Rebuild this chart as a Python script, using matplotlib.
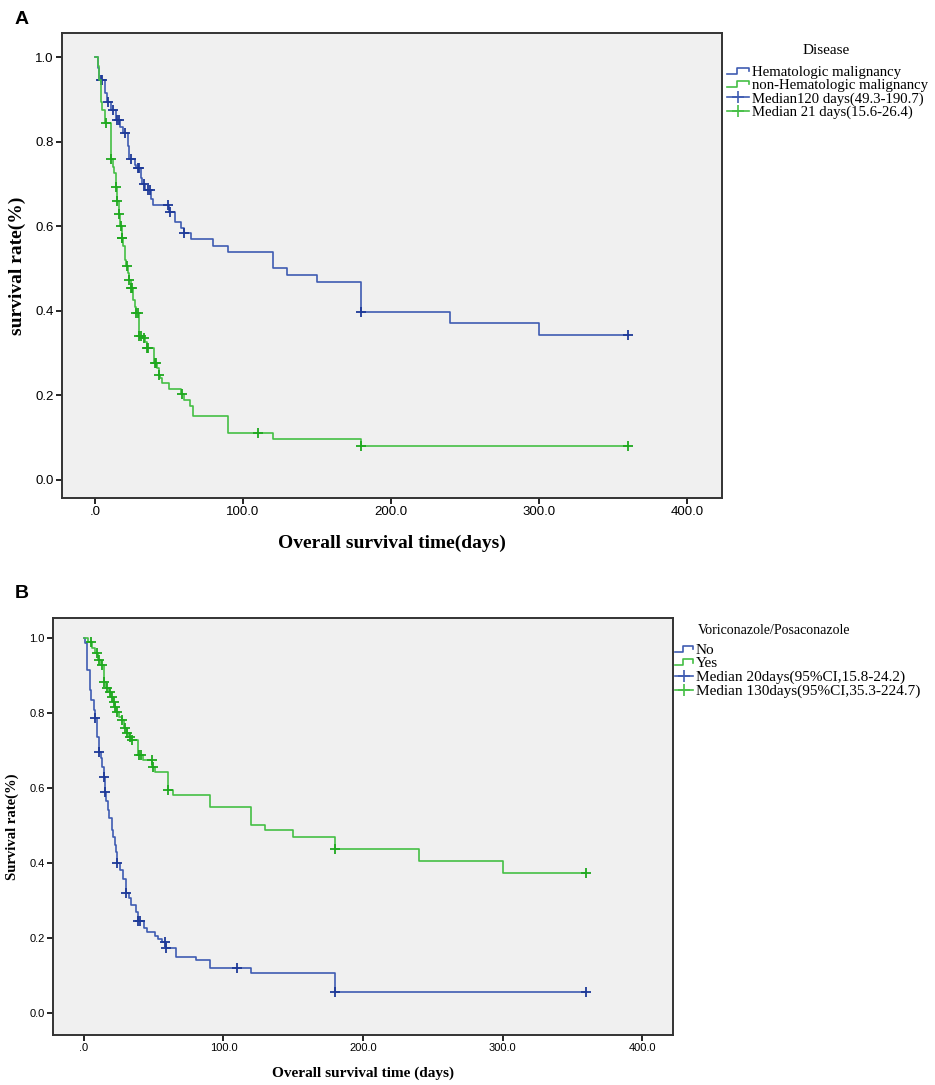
import numpy as np
import matplotlib.pyplot as plt
from matplotlib.lines import Line2D
from matplotlib.legend_handler import HandlerBase

# ---- Panel A: Disease ----
hem_t = [0, 2, 3, 7, 8, 11, 14, 17, 19, 22, 23, 27, 28, 31, 32, 34, 38, 39, 50, 54,
         58, 60, 65, 80, 90, 120, 130, 150, 180, 240, 300]
hem_s = [1.0, 0.975, 0.945, 0.915, 0.894, 0.875, 0.851, 0.835, 0.82, 0.79, 0.758, 0.745,
         0.737, 0.715, 0.70, 0.686, 0.665, 0.65, 0.634, 0.61, 0.595, 0.584, 0.57, 0.553,
         0.539, 0.50, 0.485, 0.469, 0.398, 0.371, 0.343]
hem_cens = [4, 5, 9, 12, 15, 16, 20, 24, 29, 30, 33, 36, 37, 49, 51, 60, 180, 360]

non_t = [0, 2, 3, 4, 5, 7, 11, 12, 13, 14, 15, 16, 17, 18, 19, 20, 21, 22, 23, 24, 26,
         27, 28, 30, 32, 34, 35, 40, 42, 43, 44, 45, 50, 58, 60, 64, 66, 90, 120, 180]
non_s = [1.0, 0.98, 0.945, 0.894, 0.875, 0.844, 0.76, 0.74, 0.725, 0.693, 0.66, 0.63,
         0.60, 0.571, 0.552, 0.52, 0.505, 0.489, 0.473, 0.453, 0.425, 0.41, 0.394, 0.34,
         0.336, 0.327, 0.311, 0.276, 0.265, 0.248, 0.24, 0.229, 0.215, 0.203, 0.19, 0.175,
         0.151, 0.11, 0.096, 0.080]
non_cens = [7.5, 11, 14, 15, 16, 17.5, 18, 18.5, 21.5, 23, 24, 25, 28, 29, 30, 31, 33,
            35, 36, 40.5, 41, 43, 58.5, 110, 180, 360]

# ---- Panel B: Voriconazole/Posaconazole ----
no_t = [0, 1, 2, 4, 5, 7, 8, 9, 11, 12, 13, 14, 15, 16, 17, 18, 20, 21, 22, 23, 24, 26,
        28, 30, 32, 34, 37, 39, 43, 45, 51, 53, 56, 59, 66, 80, 90, 120, 180]
no_s = [1.0, 0.986, 0.915, 0.861, 0.835, 0.808, 0.786, 0.737, 0.697, 0.68, 0.657, 0.63,
        0.59, 0.565, 0.541, 0.519, 0.488, 0.47, 0.448, 0.43, 0.401, 0.381, 0.357, 0.319,
        0.306, 0.288, 0.27, 0.245, 0.226, 0.217, 0.205, 0.196, 0.19, 0.172, 0.15, 0.141,
        0.119, 0.106, 0.057]
no_cens = [8, 11, 14, 15, 24, 30, 39, 40, 58, 59, 110, 180, 360]

yes_t = [0, 3, 6, 8, 10, 12, 14, 14.5, 16, 18, 19.5, 21, 22, 23, 25, 27, 29, 30.5, 32,
         34, 39, 42, 49, 51, 60, 64, 90, 120, 130, 150, 180, 240, 300]
yes_s = [1.0, 0.99, 0.972, 0.959, 0.941, 0.928, 0.91, 0.883, 0.866, 0.857, 0.843, 0.83,
         0.817, 0.803, 0.79, 0.781, 0.759, 0.746, 0.737, 0.728, 0.688, 0.675, 0.657,
         0.643, 0.595, 0.581, 0.55, 0.501, 0.488, 0.47, 0.437, 0.406, 0.374]
yes_cens = [5, 9, 10.5, 13, 14.5, 16.5, 18.5, 20, 21.5, 22.5, 24, 27.5, 29.5, 31, 33,
            34.5, 39.5, 41, 48.5, 49.5, 60, 180, 360]

x_ticks = [0, 100, 200, 300, 400]
x_ticklabels = ['.0', '100.0', '200.0', '300.0', '400.0']
y_ticks = [0.0, 0.2, 0.4, 0.6, 0.8, 1.0]
y_ticklabels = ['0.0', '0.2', '0.4', '0.6', '0.8', '1.0']

BLUE, BLUE_M = '#3f5cb2', '#1e3a98'
GREEN, GREEN_M = '#45bf45', '#1fa81f'
SERIF = 'Liberation Serif'
SANS = 'Liberation Sans'


class StepHandler(HandlerBase):
    # small step glyph like the SPSS legend
    def create_artists(self, legend, orig, xd, yd, w, h, fontsize, trans):
        x = -xd + w * np.array([0, 0.45, 0.45, 1.0, 1.0])
        y = -yd + h * np.array([0.2, 0.2, 0.75, 0.75, 0.45])
        ln = Line2D(x, y, color=orig.get_color(), lw=orig.get_linewidth())
        ln.set_transform(trans)
        return [ln]


def surv_at(times, surv, t):
    idx = np.searchsorted(times, t, side='right') - 1
    return np.asarray(surv)[idx]


def draw_km(ax, times, surv, cens, color, mcolor):
    end = max(cens)
    ax.step(list(times) + [end], list(surv) + [surv[-1]], where='post', color=color, lw=1.2)
    ax.plot(cens, surv_at(times, surv, cens), ls='none', marker='+', ms=7.5, mew=1.3,
            color=mcolor)


def style_axes(ax, xlim, ylim, tick_fs):
    ax.set_facecolor('#f0f0f0')
    ax.set_xlim(*xlim)
    ax.set_ylim(*ylim)
    ax.set_xticks(x_ticks)
    ax.set_xticklabels(x_ticklabels, fontfamily=SANS, fontsize=tick_fs)
    ax.set_yticks(y_ticks)
    ax.set_yticklabels(y_ticklabels, fontfamily=SANS, fontsize=tick_fs)
    ax.tick_params(direction='out', length=4, width=1.2, pad=2)
    for side, sp in ax.spines.items():
        sp.set_color('#333333')
        sp.set_linewidth(1.4)


fig = plt.figure(figsize=(9.35, 10.85), dpi=100)

# ---------------- A ----------------
axA = fig.add_axes([62 / 935, 1 - 498 / 1085, 660 / 935, 465 / 1085])
style_axes(axA, (-22.3, 423.6), (-0.043, 1.057), 9.5)
draw_km(axA, hem_t, hem_s, hem_cens, BLUE, BLUE_M)
draw_km(axA, non_t, non_s, non_cens, GREEN, GREEN_M)
axA.set_xlabel('Overall survival time(days)', fontfamily=SERIF, fontweight='bold',
               fontsize=14, va='center')
axA.xaxis.set_label_coords(0.5, -0.097)
axA.set_ylabel('survival rate(%)', fontfamily=SERIF, fontweight='bold', fontsize=14,
               va='center')
axA.yaxis.set_label_coords(-0.067, 0.5)

hA1 = Line2D([], [], color=BLUE, lw=1.2)
hA2 = Line2D([], [], color=GREEN, lw=1.2)
hA3 = Line2D([], [], color=BLUE, lw=1.2, marker='+', ms=9, mew=1.2)
hA4 = Line2D([], [], color=GREEN, lw=1.2, marker='+', ms=9, mew=1.2)
fig.text(826 / 935, 1 - 50 / 1085, 'Disease', fontfamily=SERIF, fontsize=11,
         ha='center', va='center')
fig.legend([hA1, hA2, hA3, hA4],
           ['Hematologic malignancy', 'non-Hematologic malignancy',
            'Median120 days(49.3-190.7)', 'Median 21 days(15.6-26.4)'],
           handler_map={hA1: StepHandler(), hA2: StepHandler()},
           loc='upper left', bbox_to_anchor=(727 / 935, 1 - 65.5 / 1085),
           frameon=False, prop={'family': SERIF, 'size': 10.6},
           borderpad=0, borderaxespad=0, handlelength=1.5, handletextpad=0.2,
           labelspacing=0.0, numpoints=1)

# ---------------- B ----------------
axB = fig.add_axes([53 / 935, 1 - 1035 / 1085, 620 / 935, 417 / 1085])
style_axes(axB, (-22.2, 422.2), (-0.059, 1.053), 8)
draw_km(axB, no_t, no_s, no_cens, BLUE, BLUE_M)
draw_km(axB, yes_t, yes_s, yes_cens, GREEN, GREEN_M)
axB.set_xlabel('Overall survival time (days)', fontfamily=SERIF, fontweight='bold',
               fontsize=11, va='center')
axB.xaxis.set_label_coords(0.5, -0.091)
axB.set_ylabel('Survival rate(%)', fontfamily=SERIF, fontweight='bold', fontsize=10.5,
               va='center')
axB.yaxis.set_label_coords(-0.065, 0.5)

hB1 = Line2D([], [], color=BLUE, lw=1.2)
hB2 = Line2D([], [], color=GREEN, lw=1.2)
hB3 = Line2D([], [], color=BLUE, lw=1.2, marker='+', ms=8, mew=1.2)
hB4 = Line2D([], [], color=GREEN, lw=1.2, marker='+', ms=8, mew=1.2)
fig.text(698 / 935, 1 - 630 / 1085, 'Voriconazole/Posaconazole', fontfamily=SERIF,
         fontsize=10, ha='left', va='center')
fig.legend([hB1, hB2, hB3, hB4],
           ['No', 'Yes', 'Median 20days(95%CI,15.8-24.2)',
            'Median 130days(95%CI,35.3-224.7)'],
           handler_map={hB1: StepHandler(), hB2: StepHandler()},
           loc='upper left', bbox_to_anchor=(675 / 935, 1 - 643 / 1085),
           frameon=False, prop={'family': SERIF, 'size': 11},
           borderpad=0, borderaxespad=0, handlelength=1.2, handletextpad=0.15,
           labelspacing=0.0, numpoints=1)

fig.text(15 / 935, 1 - 20 / 1085, 'A', fontfamily=SANS, fontweight='bold', fontsize=14,
         va='center', ha='left')
fig.text(15 / 935, 1 - 593 / 1085, 'B', fontfamily=SANS, fontweight='bold', fontsize=14,
         va='center', ha='left')

fig.savefig('out.png', dpi=100)
